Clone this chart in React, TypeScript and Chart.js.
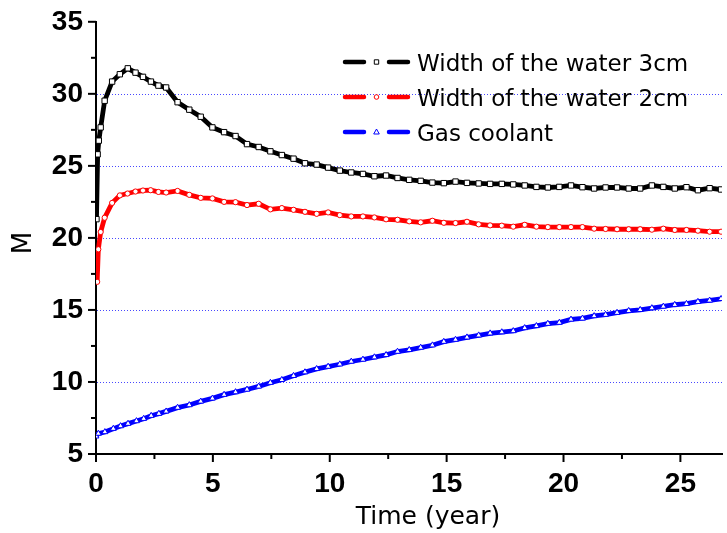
import React, { useEffect, useRef } from 'react';
import { Chart, registerables } from 'chart.js';

Chart.register(...registerables);

// ---- data (years, values) ----
const lateTimes = [
  3.0, 3.49, 3.99, 4.48, 4.98, 5.48, 5.97, 6.46, 6.96, 7.46,
  7.95, 8.45, 8.94, 9.44, 9.93, 10.43, 10.92, 11.42, 11.91, 12.41,
  12.9, 13.4, 13.89, 14.39, 14.88, 15.38, 15.87, 16.37, 16.86, 17.36,
  17.85, 18.34, 18.84, 19.33, 19.82, 20.32, 20.81, 21.31, 21.8, 22.29,
  22.79, 23.28, 23.78, 24.27, 24.76, 25.26, 25.75, 26.25, 26.74,
];

const blackEarlyTimes = [0.02, 0.07, 0.12, 0.2, 0.37, 0.69, 1.02, 1.36, 1.69, 2.01, 2.35, 2.67];
const blackEarlyValues = [21.3, 25.8, 26.75, 27.67, 29.52, 30.85, 31.36, 31.77, 31.47, 31.18, 30.85, 30.57];
const blackLateValues = [
  30.44, 29.42, 28.9, 28.41, 27.67, 27.34, 27.07, 26.51, 26.31, 26.01,
  25.75, 25.5, 25.18, 25.09, 24.88, 24.67, 24.54, 24.44, 24.28, 24.33,
  24.16, 24.03, 23.96, 23.84, 23.8, 23.91, 23.82, 23.78, 23.75, 23.75,
  23.71, 23.64, 23.54, 23.5, 23.54, 23.64, 23.52, 23.43, 23.5, 23.5,
  23.43, 23.43, 23.64, 23.54, 23.43, 23.52, 23.31, 23.45, 23.36,
];

const redEarlyTimes = [0.05, 0.1, 0.2, 0.37, 0.69, 1.02, 1.35, 1.69, 2.01, 2.34, 2.67];
const redEarlyValues = [16.95, 19.21, 20.41, 21.4, 22.43, 22.95, 23.08, 23.22, 23.29, 23.31, 23.19];
const redLateValues = [
  23.15, 23.26, 22.99, 22.78, 22.74, 22.5, 22.48, 22.28, 22.37, 21.98,
  22.07, 21.95, 21.81, 21.67, 21.77, 21.58, 21.49, 21.49, 21.42, 21.29,
  21.26, 21.15, 21.08, 21.19, 21.05, 21.03, 21.12, 20.94, 20.87, 20.85,
  20.78, 20.91, 20.78, 20.75, 20.75, 20.75, 20.75, 20.64, 20.62, 20.6,
  20.6, 20.6, 20.57, 20.64, 20.55, 20.55, 20.5, 20.43, 20.43,
];

const blueEarlyTimes = [0.0, 0.1, 0.38, 0.74, 1.05, 1.37, 1.73, 2.04, 2.36, 2.69];
const blueEarlyValues = [6.23, 6.42, 6.53, 6.76, 6.94, 7.11, 7.29, 7.45, 7.66, 7.8];
const blueLateValues = [
  7.96, 8.22, 8.4, 8.65, 8.86, 9.12, 9.3, 9.48, 9.69, 9.95,
  10.15, 10.43, 10.68, 10.91, 11.07, 11.23, 11.42, 11.56, 11.72, 11.88,
  12.11, 12.23, 12.39, 12.55, 12.8, 12.94, 13.1, 13.24, 13.38, 13.46,
  13.54, 13.75, 13.89, 14.05, 14.12, 14.34, 14.41, 14.58, 14.67, 14.81,
  14.94, 15.01, 15.13, 15.24, 15.36, 15.43, 15.57, 15.66, 15.77,
];

const seriesNames = ['Width of the water 3cm', 'Width of the water 2cm', 'Gas coolant'];
const seriesColors = ['#000000', '#ff0000', '#0000ff'];
const seriesMarkers = ['rect', 'circle', 'triangle'];

const majorXTicks = [0, 5, 10, 15, 20, 25];
const minorXTicks = [2.5, 7.5, 12.5, 17.5, 22.5];
const majorYTicks = [5, 10, 15, 20, 25, 30, 35];
const minorYTicks = [7.5, 12.5, 17.5, 22.5, 27.5, 32.5];
const gridYValues = [10, 15, 20, 25, 30];

const xTitle = 'Time (year)';
const yTitle = 'M';

function toPoints(t1: number[], v1: number[], t2: number[], v2: number[]) {
  const a = t1.map((t, i) => ({ x: t, y: v1[i] }));
  const b = t2.map((t, i) => ({ x: t, y: v2[i] }));
  return a.concat(b);
}

function drawMarker(ctx: CanvasRenderingContext2D, kind: string, x: number, y: number, color: string) {
  ctx.save();
  ctx.fillStyle = '#ffffff';
  ctx.strokeStyle = color;
  ctx.lineWidth = 1;
  ctx.beginPath();
  if (kind === 'rect') {
    ctx.rect(x - 2.2, y - 2.2, 4.4, 4.4);
  } else if (kind === 'circle') {
    ctx.arc(x, y, 2.3, 0, Math.PI * 2);
  } else {
    ctx.moveTo(x, y - 3);
    ctx.lineTo(x + 2.8, y + 2);
    ctx.lineTo(x - 2.8, y + 2);
    ctx.closePath();
  }
  ctx.fill();
  ctx.stroke();
  ctx.restore();
}

const decorPlugin = {
  id: 'decor',
  beforeDatasetsDraw(chart: any) {
    const { ctx, chartArea, scales } = chart;
    ctx.save();
    ctx.strokeStyle = 'rgba(40,40,255,0.85)';
    ctx.lineWidth = 1;
    ctx.setLineDash([1, 2]);
    gridYValues.forEach((v) => {
      const y = Math.round(scales.y.getPixelForValue(v)) + 0.5;
      ctx.beginPath();
      ctx.moveTo(chartArea.left + 1, y);
      ctx.lineTo(chartArea.right, y);
      ctx.stroke();
    });
    ctx.restore();
  },
  afterDraw(chart: any) {
    const { ctx, chartArea, scales } = chart;
    ctx.save();
    ctx.strokeStyle = '#000';
    ctx.lineWidth = 2;
    const b = chartArea.bottom;
    const l = chartArea.left;
    const tick = (x1: number, y1: number, x2: number, y2: number) => {
      ctx.beginPath();
      ctx.moveTo(x1, y1);
      ctx.lineTo(x2, y2);
      ctx.stroke();
    };
    majorXTicks.forEach((v) => { const x = scales.x.getPixelForValue(v); tick(x, b, x, b + 8); });
    minorXTicks.forEach((v) => { const x = scales.x.getPixelForValue(v); tick(x, b, x, b + 5); });
    majorYTicks.forEach((v) => { const y = scales.y.getPixelForValue(v); tick(l - 8, y, l, y); });
    minorYTicks.forEach((v) => { const y = scales.y.getPixelForValue(v); tick(l - 5, y, l, y); });

    // axis titles
    ctx.fillStyle = '#000';
    ctx.font = '25px "DejaVu Sans"';
    ctx.textAlign = 'center';
    ctx.textBaseline = 'alphabetic';
    ctx.fillText(xTitle, 428, 524);
    ctx.save();
    ctx.translate(31, 243);
    ctx.rotate(-Math.PI / 2);
    ctx.font = '26px "DejaVu Sans"';
    ctx.fillText(yTitle, 0, 0);
    ctx.restore();

    // legend
    chart.data.datasets.forEach((ds: any, i: number) => {
      const y = 62 + 35 * i;
      ctx.save();
      ctx.strokeStyle = seriesColors[i];
      ctx.lineWidth = 4.5;
      ctx.lineCap = 'round';
      ctx.beginPath();
      ctx.moveTo(345, y);
      ctx.lineTo(364, y);
      ctx.moveTo(389, y);
      ctx.lineTo(408, y);
      ctx.stroke();
      ctx.restore();
      drawMarker(ctx, seriesMarkers[i], 376.5, y, seriesColors[i]);
      ctx.fillStyle = '#000';
      ctx.font = '23px "DejaVu Sans"';
      ctx.textAlign = 'left';
      ctx.textBaseline = 'alphabetic';
      ctx.fillText(ds.label, 417, y + 9);
    });
    ctx.restore();
  },
};

export default function App() {
  const ref = useRef<HTMLCanvasElement>(null);
  useEffect(() => {
    const canvas = ref.current;
    if (!canvas) return;
    const tickFont = { family: '"Liberation Sans", Arial, sans-serif', size: 28, weight: 'bold' as const };
    const dsCommon = {
      borderWidth: 4.8,
      pointBackgroundColor: '#ffffff',
      pointBorderWidth: 1,
      tension: 0,
      fill: false,
    };
    const chart = new Chart(canvas, {
      type: 'line',
      data: {
        datasets: [
          {
            ...dsCommon,
            label: seriesNames[0],
            data: toPoints(blackEarlyTimes, blackEarlyValues, lateTimes, blackLateValues),
            borderColor: seriesColors[0],
            pointBorderColor: seriesColors[0],
            pointStyle: 'rect',
            pointRadius: 3.8,
          },
          {
            ...dsCommon,
            label: seriesNames[1],
            data: toPoints(redEarlyTimes, redEarlyValues, lateTimes, redLateValues),
            borderColor: seriesColors[1],
            pointBorderColor: seriesColors[1],
            pointStyle: 'circle',
            pointRadius: 2.6,
          },
          {
            ...dsCommon,
            label: seriesNames[2],
            data: toPoints(blueEarlyTimes, blueEarlyValues, lateTimes, blueLateValues),
            borderColor: seriesColors[2],
            pointBorderColor: seriesColors[2],
            pointStyle: 'triangle',
            pointRadius: 3.4,
          },
        ],
      },
      options: {
        animation: false,
        responsive: false,
        maintainAspectRatio: false,
        layout: { padding: { top: 20, right: 0, left: 0, bottom: 0 } },
        plugins: { legend: { display: false }, tooltip: { enabled: false } },
        scales: {
          x: {
            type: 'linear',
            min: 0,
            max: 26.78,
            grid: { display: false, drawTicks: true, tickLength: 8 },
            border: { display: true, color: '#000', width: 2 },
            ticks: {
              stepSize: 5,
              includeBounds: false,
              color: '#000',
              font: tickFont,
              padding: 5,
              maxRotation: 0,
              autoSkip: false,
            },
            afterFit: (s: any) => { s.height = 79; },
          },
          y: {
            type: 'linear',
            min: 5,
            max: 35,
            grid: { display: false, drawTicks: true, tickLength: 8 },
            border: { display: true, color: '#000', width: 2 },
            ticks: {
              stepSize: 5,
              color: '#000',
              font: tickFont,
              padding: 5,
              autoSkip: false,
            },
            afterFit: (s: any) => { s.width = 96; },
          },
        },
      },
      plugins: [decorPlugin],
    });
    return () => chart.destroy();
  }, []);

  return (
    <div style={{ position: 'fixed', left: 0, top: 0, width: 727, height: 533, background: '#fff' }}>
      <canvas ref={ref} width={727} height={533} style={{ width: 727, height: 533, display: 'block' }} />
    </div>
  );
}
